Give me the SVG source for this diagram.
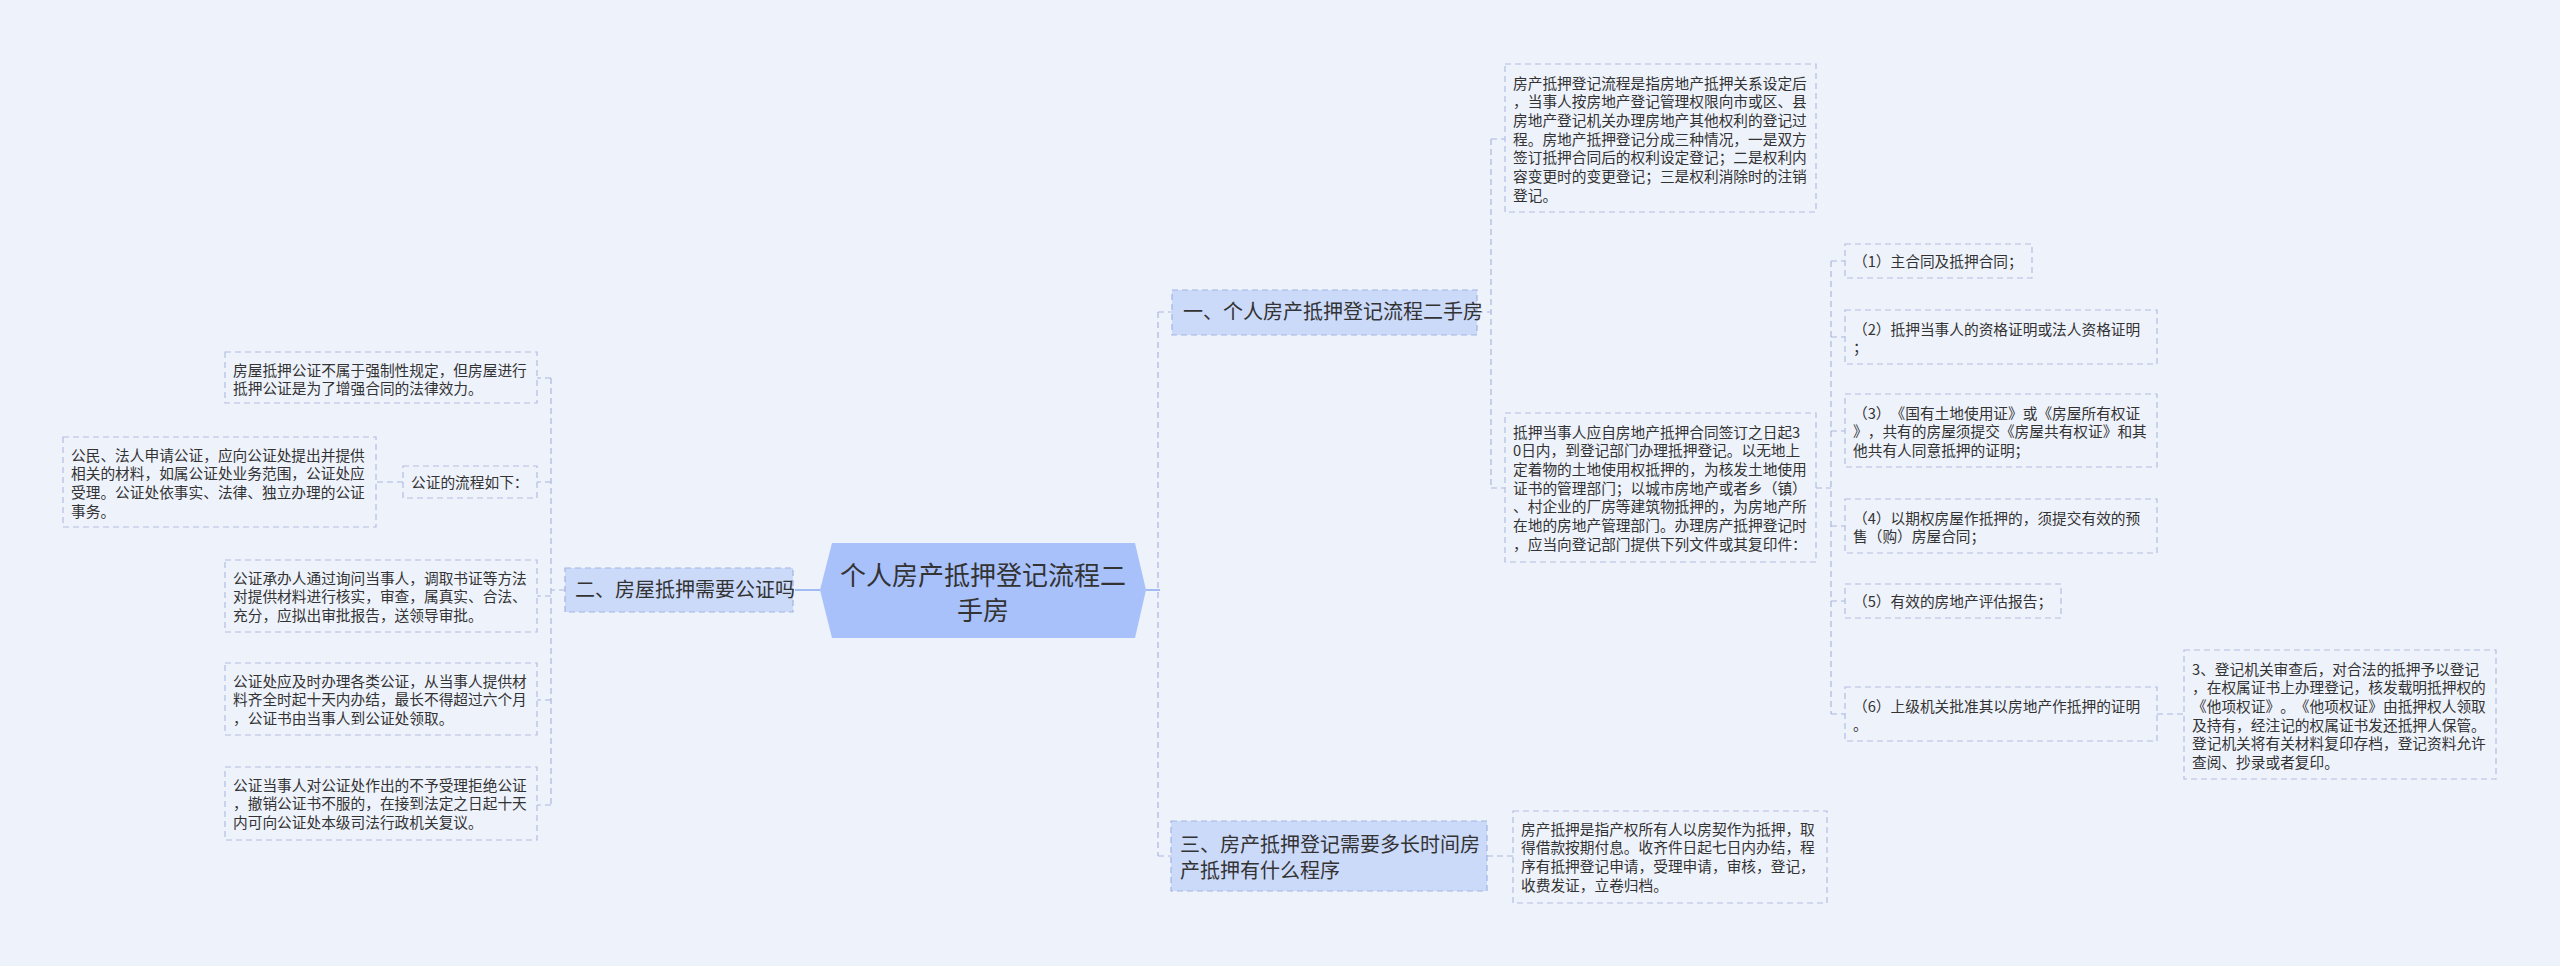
<svg xmlns="http://www.w3.org/2000/svg" width="2560" height="966" viewBox="0 0 2560 966">
<style>
text{font-family:"Noto Sans CJK SC","Noto Sans",sans-serif;fill:#333;text-spacing-trim:space-all;font-feature-settings:"chws" 0,"halt" 0;}
.t{font-size:14.7px;}
.b{font-size:20px;}
.c{font-size:26px;}
.box{fill:none;stroke:#b3bee2;stroke-width:1.2;stroke-dasharray:6 4;}
.br{fill:#ccdafa;stroke:#a2b3e2;stroke-width:1.2;stroke-dasharray:6 4;}
.ln{fill:none;stroke:#a9b7e0;stroke-width:1.2;stroke-dasharray:6 4;}
.lm{fill:none;stroke:#a3bbf3;stroke-width:2;}
</style>
<rect width="2560" height="966" fill="#eef2fb"/>
<g id="connectors">
<path class="lm" d="M795 590H820M1146 590H1160"/>
<path class="ln" d="M1158 312V856M1158 312H1172M1158 856H1171"/>
<path class="ln" d="M1477 312H1491M1491 139V488M1491 139H1505M1491 488H1505"/>
<path class="ln" d="M1816 488H1831M1831 261V714M1831 261H1845M1831 337H1845M1831 431H1845M1831 526H1845M1831 601H1845M1831 714H1845"/>
<path class="ln" d="M2157 714H2184"/>
<path class="ln" d="M1487 856H1513"/>
<path class="ln" d="M565 590H551M551 378V805M551 378H537M551 482H537M551 596H537M551 700H537M551 805H537"/>
<path class="ln" d="M403 482H376"/>
</g>
<g id="center">
<polygon points="820,590 832,543 1135,543 1146,590 1135,638 832,638" fill="#a8c1fb"/>
<text class="c" x="983" y="585" text-anchor="middle">个人房产抵押登记流程二</text>
<text class="c" x="983" y="620" text-anchor="middle">手房</text>
</g>
<g id="branch1">
<rect class="br" x="1172" y="290" width="305" height="45"/>
<text class="b" x="1183" y="319">一、个人房产抵押登记流程二手房</text>
</g>
<g id="b1-text1">
<rect class="box" x="1505" y="64" width="311" height="148"/>
<text class="t"><tspan x="1513" y="88.5">房产抵押登记流程是指房地产抵押关系设定后</tspan><tspan x="1513" y="107.2">，当事人按房地产登记管理权限向市或区、县</tspan><tspan x="1513" y="125.9">房地产登记机关办理房地产其他权利的登记过</tspan><tspan x="1513" y="144.6">程。房地产抵押登记分成三种情况，一是双方</tspan><tspan x="1513" y="163.3">签订抵押合同后的权利设定登记；二是权利内</tspan><tspan x="1513" y="182">容变更时的变更登记；三是权利消除时的注销</tspan><tspan x="1513" y="200.7">登记。</tspan></text>
</g>
<g id="b1-text2">
<rect class="box" x="1505" y="413" width="311" height="149"/>
<text class="t"><tspan x="1513" y="437.5">抵押当事人应自房地产抵押合同签订之日起3</tspan><tspan x="1513" y="456.2">0日内，到登记部门办理抵押登记。以无地上</tspan><tspan x="1513" y="474.9">定着物的土地使用权抵押的，为核发土地使用</tspan><tspan x="1513" y="493.6">证书的管理部门；以城市房地产或者乡（镇）</tspan><tspan x="1513" y="512.3">、村企业的厂房等建筑物抵押的，为房地产所</tspan><tspan x="1513" y="531">在地的房地产管理部门。办理房产抵押登记时</tspan><tspan x="1513" y="549.7">，应当向登记部门提供下列文件或其复印件：</tspan></text>
</g>
<g id="item1">
<rect class="box" x="1845" y="244" width="187" height="34"/>
<text class="t" x="1853" y="266.5">（1）主合同及抵押合同；</text>
</g>
<g id="item2">
<rect class="box" x="1845" y="310" width="312" height="54"/>
<text class="t"><tspan x="1853" y="334.5">（2）抵押当事人的资格证明或法人资格证明</tspan><tspan x="1853" y="353.2">；</tspan></text>
</g>
<g id="item3">
<rect class="box" x="1845" y="394" width="312" height="73"/>
<text class="t"><tspan x="1853" y="418.5">（3）《国有土地使用证》或《房屋所有权证</tspan><tspan x="1853" y="437.2">》，共有的房屋须提交《房屋共有权证》和其</tspan><tspan x="1853" y="455.9">他共有人同意抵押的证明；</tspan></text>
</g>
<g id="item4">
<rect class="box" x="1845" y="499" width="312" height="54"/>
<text class="t"><tspan x="1853" y="523.5">（4）以期权房屋作抵押的，须提交有效的预</tspan><tspan x="1853" y="542.2">售（购）房屋合同；</tspan></text>
</g>
<g id="item5">
<rect class="box" x="1845" y="584" width="216" height="34"/>
<text class="t" x="1853" y="606.5">（5）有效的房地产评估报告；</text>
</g>
<g id="item6">
<rect class="box" x="1845" y="687" width="312" height="54"/>
<text class="t"><tspan x="1853" y="711.5">（6）上级机关批准其以房地产作抵押的证明</tspan><tspan x="1853" y="730.2">。</tspan></text>
</g>
<g id="item6-detail">
<rect class="box" x="2184" y="650" width="312" height="129"/>
<text class="t"><tspan x="2192" y="674.5">3、登记机关审查后，对合法的抵押予以登记</tspan><tspan x="2192" y="693.2">，在权属证书上办理登记，核发载明抵押权的</tspan><tspan x="2192" y="711.9">《他项权证》。《他项权证》由抵押权人领取</tspan><tspan x="2192" y="730.6">及持有，经注记的权属证书发还抵押人保管。</tspan><tspan x="2192" y="749.3">登记机关将有关材料复印存档，登记资料允许</tspan><tspan x="2192" y="768">查阅、抄录或者复印。</tspan></text>
</g>
<g id="branch3">
<rect class="br" x="1171" y="821" width="316" height="70"/>
<text class="b"><tspan x="1180" y="852">三、房产抵押登记需要多长时间房</tspan><tspan x="1180" y="878">产抵押有什么程序</tspan></text>
</g>
<g id="b3-text">
<rect class="box" x="1513" y="811" width="314" height="92"/>
<text class="t"><tspan x="1521" y="834.5">房产抵押是指产权所有人以房契作为抵押，取</tspan><tspan x="1521" y="853.2">得借款按期付息。收齐件日起七日内办结，程</tspan><tspan x="1521" y="871.9">序有抵押登记申请，受理申请，审核，登记，</tspan><tspan x="1521" y="890.6">收费发证，立卷归档。</tspan></text>
</g>
<g id="branch2">
<rect class="br" x="565" y="568" width="228" height="44"/>
<text class="b" x="575" y="597">二、房屋抵押需要公证吗</text>
</g>
<g id="b2-text1">
<rect class="box" x="225" y="352" width="312" height="51"/>
<text class="t"><tspan x="233" y="375.5">房屋抵押公证不属于强制性规定，但房屋进行</tspan><tspan x="233" y="394.2">抵押公证是为了增强合同的法律效力。</tspan></text>
</g>
<g id="b2-flow">
<rect class="box" x="403" y="466" width="134" height="32"/>
<text class="t" x="411" y="487.5">公证的流程如下：</text>
</g>
<g id="b2-flow-detail">
<rect class="box" x="63" y="437" width="313" height="90"/>
<text class="t"><tspan x="71" y="460.5">公民、法人申请公证，应向公证处提出并提供</tspan><tspan x="71" y="479.2">相关的材料，如属公证处业务范围，公证处应</tspan><tspan x="71" y="497.9">受理。公证处依事实、法律、独立办理的公证</tspan><tspan x="71" y="516.6">事务。</tspan></text>
</g>
<g id="b2-text2">
<rect class="box" x="225" y="560" width="312" height="72"/>
<text class="t"><tspan x="233" y="583.5">公证承办人通过询问当事人，调取书证等方法</tspan><tspan x="233" y="602.2">对提供材料进行核实，审查，属真实、合法、</tspan><tspan x="233" y="620.9">充分，应拟出审批报告，送领导审批。</tspan></text>
</g>
<g id="b2-text3">
<rect class="box" x="225" y="663" width="312" height="72"/>
<text class="t"><tspan x="233" y="686.5">公证处应及时办理各类公证，从当事人提供材</tspan><tspan x="233" y="705.2">料齐全时起十天内办结，最长不得超过六个月</tspan><tspan x="233" y="723.9">，公证书由当事人到公证处领取。</tspan></text>
</g>
<g id="b2-text4">
<rect class="box" x="225" y="767" width="312" height="73"/>
<text class="t"><tspan x="233" y="790.5">公证当事人对公证处作出的不予受理拒绝公证</tspan><tspan x="233" y="809.2">，撤销公证书不服的，在接到法定之日起十天</tspan><tspan x="233" y="827.9">内可向公证处本级司法行政机关复议。</tspan></text>
</g>
</svg>
